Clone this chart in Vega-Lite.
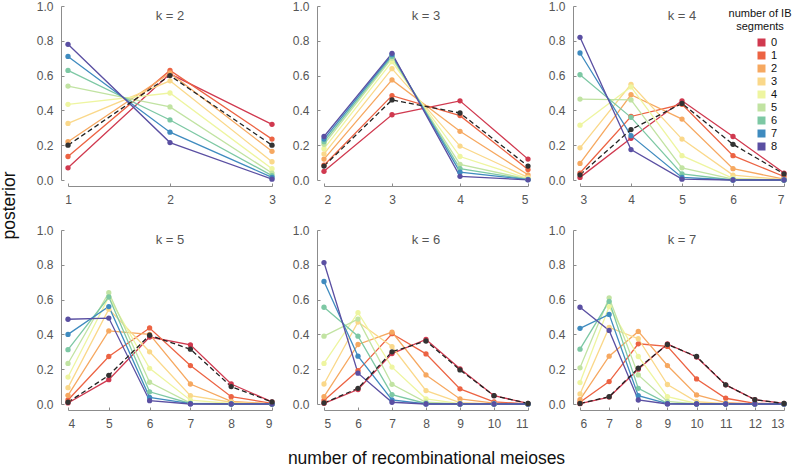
{
"$schema": "https://vega.github.io/schema/vega-lite/v6.json",
"autosize": {"type": "none"},
"padding": {"left": 68, "top": 6, "right": 724, "bottom": 461},
"background": "white",
"bounds": "flush",
"columns": 3,
"spacing": {"row": 50, "column": 52},
"resolve": {"legend": {"color": "independent"}},
"data": {"values": [
{"k":2,"m":1,"s":"0","p":0.07},{"k":2,"m":2,"s":"0","p":0.61},{"k":2,"m":3,"s":"0","p":0.32},
{"k":2,"m":1,"s":"1","p":0.135},{"k":2,"m":2,"s":"1","p":0.63},{"k":2,"m":3,"s":"1","p":0.235},
{"k":2,"m":1,"s":"2","p":0.22},{"k":2,"m":2,"s":"2","p":0.615},{"k":2,"m":3,"s":"2","p":0.165},
{"k":2,"m":1,"s":"3","p":0.325},{"k":2,"m":2,"s":"3","p":0.57},{"k":2,"m":3,"s":"3","p":0.105},
{"k":2,"m":1,"s":"4","p":0.435},{"k":2,"m":2,"s":"4","p":0.5},{"k":2,"m":3,"s":"4","p":0.065},
{"k":2,"m":1,"s":"5","p":0.54},{"k":2,"m":2,"s":"5","p":0.42},{"k":2,"m":3,"s":"5","p":0.04},
{"k":2,"m":1,"s":"6","p":0.63},{"k":2,"m":2,"s":"6","p":0.345},{"k":2,"m":3,"s":"6","p":0.025},
{"k":2,"m":1,"s":"7","p":0.71},{"k":2,"m":2,"s":"7","p":0.275},{"k":2,"m":3,"s":"7","p":0.015},
{"k":2,"m":1,"s":"8","p":0.78},{"k":2,"m":2,"s":"8","p":0.215},{"k":2,"m":3,"s":"8","p":0.005},
{"k":2,"m":1,"s":"mean","p":0.2},{"k":2,"m":2,"s":"mean","p":0.6},{"k":2,"m":3,"s":"mean","p":0.2},

{"k":3,"m":2,"s":"0","p":0.05},{"k":3,"m":3,"s":"0","p":0.375},{"k":3,"m":4,"s":"0","p":0.455},{"k":3,"m":5,"s":"0","p":0.12},
{"k":3,"m":2,"s":"1","p":0.085},{"k":3,"m":3,"s":"1","p":0.485},{"k":3,"m":4,"s":"1","p":0.37},{"k":3,"m":5,"s":"1","p":0.06},
{"k":3,"m":2,"s":"2","p":0.12},{"k":3,"m":3,"s":"2","p":0.575},{"k":3,"m":4,"s":"2","p":0.28},{"k":3,"m":5,"s":"2","p":0.03},
{"k":3,"m":2,"s":"3","p":0.15},{"k":3,"m":3,"s":"3","p":0.64},{"k":3,"m":4,"s":"3","p":0.195},{"k":3,"m":5,"s":"3","p":0.015},
{"k":3,"m":2,"s":"4","p":0.18},{"k":3,"m":3,"s":"4","p":0.68},{"k":3,"m":4,"s":"4","p":0.135},{"k":3,"m":5,"s":"4","p":0.008},
{"k":3,"m":2,"s":"5","p":0.205},{"k":3,"m":3,"s":"5","p":0.7},{"k":3,"m":4,"s":"5","p":0.09},{"k":3,"m":5,"s":"5","p":0.005},
{"k":3,"m":2,"s":"6","p":0.22},{"k":3,"m":3,"s":"6","p":0.71},{"k":3,"m":4,"s":"6","p":0.065},{"k":3,"m":5,"s":"6","p":0.003},
{"k":3,"m":2,"s":"7","p":0.235},{"k":3,"m":3,"s":"7","p":0.72},{"k":3,"m":4,"s":"7","p":0.045},{"k":3,"m":5,"s":"7","p":0.002},
{"k":3,"m":2,"s":"8","p":0.25},{"k":3,"m":3,"s":"8","p":0.728},{"k":3,"m":4,"s":"8","p":0.021},{"k":3,"m":5,"s":"8","p":0.001},
{"k":3,"m":2,"s":"mean","p":0.08},{"k":3,"m":3,"s":"mean","p":0.46},{"k":3,"m":4,"s":"mean","p":0.385},{"k":3,"m":5,"s":"mean","p":0.08},

{"k":4,"m":3,"s":"0","p":0.015},{"k":4,"m":4,"s":"0","p":0.24},{"k":4,"m":5,"s":"0","p":0.455},{"k":4,"m":6,"s":"0","p":0.25},{"k":4,"m":7,"s":"0","p":0.04},
{"k":4,"m":3,"s":"1","p":0.04},{"k":4,"m":4,"s":"1","p":0.365},{"k":4,"m":5,"s":"1","p":0.435},{"k":4,"m":6,"s":"1","p":0.14},{"k":4,"m":7,"s":"1","p":0.02},
{"k":4,"m":3,"s":"2","p":0.095},{"k":4,"m":4,"s":"2","p":0.49},{"k":4,"m":5,"s":"2","p":0.35},{"k":4,"m":6,"s":"2","p":0.065},{"k":4,"m":7,"s":"2","p":0.005},
{"k":4,"m":3,"s":"3","p":0.185},{"k":4,"m":4,"s":"3","p":0.55},{"k":4,"m":5,"s":"3","p":0.235},{"k":4,"m":6,"s":"3","p":0.028},{"k":4,"m":7,"s":"3","p":0.002},
{"k":4,"m":3,"s":"4","p":0.315},{"k":4,"m":4,"s":"4","p":0.535},{"k":4,"m":5,"s":"4","p":0.14},{"k":4,"m":6,"s":"4","p":0.01},{"k":4,"m":7,"s":"4","p":0.0},
{"k":4,"m":3,"s":"5","p":0.465},{"k":4,"m":4,"s":"5","p":0.46},{"k":4,"m":5,"s":"5","p":0.07},{"k":4,"m":6,"s":"5","p":0.005},{"k":4,"m":7,"s":"5","p":0.0},
{"k":4,"m":3,"s":"6","p":0.605},{"k":4,"m":4,"s":"6","p":0.36},{"k":4,"m":5,"s":"6","p":0.035},{"k":4,"m":6,"s":"6","p":0.0},{"k":4,"m":7,"s":"6","p":0.0},
{"k":4,"m":3,"s":"7","p":0.73},{"k":4,"m":4,"s":"7","p":0.255},{"k":4,"m":5,"s":"7","p":0.015},{"k":4,"m":6,"s":"7","p":0.0},{"k":4,"m":7,"s":"7","p":0.0},
{"k":4,"m":3,"s":"8","p":0.82},{"k":4,"m":4,"s":"8","p":0.175},{"k":4,"m":5,"s":"8","p":0.005},{"k":4,"m":6,"s":"8","p":0.0},{"k":4,"m":7,"s":"8","p":0.0},
{"k":4,"m":3,"s":"mean","p":0.03},{"k":4,"m":4,"s":"mean","p":0.29},{"k":4,"m":5,"s":"mean","p":0.44},{"k":4,"m":6,"s":"mean","p":0.205},{"k":4,"m":7,"s":"mean","p":0.035},

{"k":5,"m":4,"s":"0","p":0.006},{"k":5,"m":5,"s":"0","p":0.14},{"k":5,"m":6,"s":"0","p":0.385},{"k":5,"m":7,"s":"0","p":0.34},{"k":5,"m":8,"s":"0","p":0.115},{"k":5,"m":9,"s":"0","p":0.012},
{"k":5,"m":4,"s":"1","p":0.023},{"k":5,"m":5,"s":"1","p":0.273},{"k":5,"m":6,"s":"1","p":0.437},{"k":5,"m":7,"s":"1","p":0.221},{"k":5,"m":8,"s":"1","p":0.042},{"k":5,"m":9,"s":"1","p":0.004},
{"k":5,"m":4,"s":"2","p":0.05},{"k":5,"m":5,"s":"2","p":0.42},{"k":5,"m":6,"s":"2","p":0.4},{"k":5,"m":7,"s":"2","p":0.115},{"k":5,"m":8,"s":"2","p":0.015},{"k":5,"m":9,"s":"2","p":0.001},
{"k":5,"m":4,"s":"3","p":0.094},{"k":5,"m":5,"s":"3","p":0.545},{"k":5,"m":6,"s":"3","p":0.3},{"k":5,"m":7,"s":"3","p":0.048},{"k":5,"m":8,"s":"3","p":0.01},{"k":5,"m":9,"s":"3","p":0.0},
{"k":5,"m":4,"s":"4","p":0.155},{"k":5,"m":5,"s":"4","p":0.615},{"k":5,"m":6,"s":"4","p":0.205},{"k":5,"m":7,"s":"4","p":0.022},{"k":5,"m":8,"s":"4","p":0.003},{"k":5,"m":9,"s":"4","p":0.0},
{"k":5,"m":4,"s":"5","p":0.233},{"k":5,"m":5,"s":"5","p":0.64},{"k":5,"m":6,"s":"5","p":0.125},{"k":5,"m":7,"s":"5","p":0.005},{"k":5,"m":8,"s":"5","p":0.0},{"k":5,"m":9,"s":"5","p":0.0},
{"k":5,"m":4,"s":"6","p":0.312},{"k":5,"m":5,"s":"6","p":0.615},{"k":5,"m":6,"s":"6","p":0.07},{"k":5,"m":7,"s":"6","p":0.003},{"k":5,"m":8,"s":"6","p":0.0},{"k":5,"m":9,"s":"6","p":0.0},
{"k":5,"m":4,"s":"7","p":0.4},{"k":5,"m":5,"s":"7","p":0.56},{"k":5,"m":6,"s":"7","p":0.038},{"k":5,"m":7,"s":"7","p":0.002},{"k":5,"m":8,"s":"7","p":0.0},{"k":5,"m":9,"s":"7","p":0.0},
{"k":5,"m":4,"s":"8","p":0.487},{"k":5,"m":5,"s":"8","p":0.494},{"k":5,"m":6,"s":"8","p":0.019},{"k":5,"m":7,"s":"8","p":0.0},{"k":5,"m":8,"s":"8","p":0.0},{"k":5,"m":9,"s":"8","p":0.0},
{"k":5,"m":4,"s":"mean","p":0.01},{"k":5,"m":5,"s":"mean","p":0.165},{"k":5,"m":6,"s":"mean","p":0.395},{"k":5,"m":7,"s":"mean","p":0.315},{"k":5,"m":8,"s":"mean","p":0.1},{"k":5,"m":9,"s":"mean","p":0.012},

{"k":6,"m":5,"s":"0","p":0.004},{"k":6,"m":6,"s":"0","p":0.083},{"k":6,"m":7,"s":"0","p":0.29},{"k":6,"m":8,"s":"0","p":0.371},{"k":6,"m":9,"s":"0","p":0.202},{"k":6,"m":10,"s":"0","p":0.048},{"k":6,"m":11,"s":"0","p":0.004},
{"k":6,"m":5,"s":"1","p":0.02},{"k":6,"m":6,"s":"1","p":0.192},{"k":6,"m":7,"s":"1","p":0.404},{"k":6,"m":8,"s":"1","p":0.288},{"k":6,"m":9,"s":"1","p":0.087},{"k":6,"m":10,"s":"1","p":0.012},{"k":6,"m":11,"s":"1","p":0.001},
{"k":6,"m":5,"s":"2","p":0.042},{"k":6,"m":6,"s":"2","p":0.342},{"k":6,"m":7,"s":"2","p":0.413},{"k":6,"m":8,"s":"2","p":0.167},{"k":6,"m":9,"s":"2","p":0.029},{"k":6,"m":10,"s":"2","p":0.005},{"k":6,"m":11,"s":"2","p":0.0},
{"k":6,"m":5,"s":"3","p":0.115},{"k":6,"m":6,"s":"3","p":0.471},{"k":6,"m":7,"s":"3","p":0.33},{"k":6,"m":8,"s":"3","p":0.077},{"k":6,"m":9,"s":"3","p":0.008},{"k":6,"m":10,"s":"3","p":0.001},{"k":6,"m":11,"s":"3","p":0.0},
{"k":6,"m":5,"s":"4","p":0.233},{"k":6,"m":6,"s":"4","p":0.525},{"k":6,"m":7,"s":"4","p":0.212},{"k":6,"m":8,"s":"4","p":0.03},{"k":6,"m":9,"s":"4","p":0.002},{"k":6,"m":10,"s":"4","p":0.0},{"k":6,"m":11,"s":"4","p":0.0},
{"k":6,"m":5,"s":"5","p":0.39},{"k":6,"m":6,"s":"5","p":0.488},{"k":6,"m":7,"s":"5","p":0.113},{"k":6,"m":8,"s":"5","p":0.01},{"k":6,"m":9,"s":"5","p":0.0},{"k":6,"m":10,"s":"5","p":0.0},{"k":6,"m":11,"s":"5","p":0.0},
{"k":6,"m":5,"s":"6","p":0.556},{"k":6,"m":6,"s":"6","p":0.39},{"k":6,"m":7,"s":"6","p":0.054},{"k":6,"m":8,"s":"6","p":0.003},{"k":6,"m":9,"s":"6","p":0.0},{"k":6,"m":10,"s":"6","p":0.0},{"k":6,"m":11,"s":"6","p":0.0},
{"k":6,"m":5,"s":"7","p":0.704},{"k":6,"m":6,"s":"7","p":0.275},{"k":6,"m":7,"s":"7","p":0.023},{"k":6,"m":8,"s":"7","p":0.0},{"k":6,"m":9,"s":"7","p":0.0},{"k":6,"m":10,"s":"7","p":0.0},{"k":6,"m":11,"s":"7","p":0.0},
{"k":6,"m":5,"s":"8","p":0.813},{"k":6,"m":6,"s":"8","p":0.177},{"k":6,"m":7,"s":"8","p":0.01},{"k":6,"m":8,"s":"8","p":0.0},{"k":6,"m":9,"s":"8","p":0.0},{"k":6,"m":10,"s":"8","p":0.0},{"k":6,"m":11,"s":"8","p":0.0},
{"k":6,"m":5,"s":"mean","p":0.006},{"k":6,"m":6,"s":"mean","p":0.09},{"k":6,"m":7,"s":"mean","p":0.3},{"k":6,"m":8,"s":"mean","p":0.362},{"k":6,"m":9,"s":"mean","p":0.196},{"k":6,"m":10,"s":"mean","p":0.048},{"k":6,"m":11,"s":"mean","p":0.003},

{"k":7,"m":6,"s":"0","p":0.002},{"k":7,"m":7,"s":"0","p":0.04},{"k":7,"m":8,"s":"0","p":0.2},{"k":7,"m":9,"s":"0","p":0.345},{"k":7,"m":10,"s":"0","p":0.27},{"k":7,"m":11,"s":"0","p":0.11},{"k":7,"m":12,"s":"0","p":0.025},{"k":7,"m":13,"s":"0","p":0.003},
{"k":7,"m":6,"s":"1","p":0.01},{"k":7,"m":7,"s":"1","p":0.129},{"k":7,"m":8,"s":"1","p":0.346},{"k":7,"m":9,"s":"1","p":0.331},{"k":7,"m":10,"s":"1","p":0.144},{"k":7,"m":11,"s":"1","p":0.033},{"k":7,"m":12,"s":"1","p":0.004},{"k":7,"m":13,"s":"1","p":0.0},
{"k":7,"m":6,"s":"2","p":0.025},{"k":7,"m":7,"s":"2","p":0.275},{"k":7,"m":8,"s":"2","p":0.417},{"k":7,"m":9,"s":"2","p":0.221},{"k":7,"m":10,"s":"2","p":0.052},{"k":7,"m":11,"s":"2","p":0.008},{"k":7,"m":12,"s":"2","p":0.001},{"k":7,"m":13,"s":"2","p":0.0},
{"k":7,"m":6,"s":"3","p":0.058},{"k":7,"m":7,"s":"3","p":0.44},{"k":7,"m":8,"s":"3","p":0.375},{"k":7,"m":9,"s":"3","p":0.112},{"k":7,"m":10,"s":"3","p":0.013},{"k":7,"m":11,"s":"3","p":0.002},{"k":7,"m":12,"s":"3","p":0.0},{"k":7,"m":13,"s":"3","p":0.0},
{"k":7,"m":6,"s":"4","p":0.123},{"k":7,"m":7,"s":"4","p":0.56},{"k":7,"m":8,"s":"4","p":0.273},{"k":7,"m":9,"s":"4","p":0.042},{"k":7,"m":10,"s":"4","p":0.003},{"k":7,"m":11,"s":"4","p":0.0},{"k":7,"m":12,"s":"4","p":0.0},{"k":7,"m":13,"s":"4","p":0.0},
{"k":7,"m":6,"s":"5","p":0.208},{"k":7,"m":7,"s":"5","p":0.61},{"k":7,"m":8,"s":"5","p":0.167},{"k":7,"m":9,"s":"5","p":0.015},{"k":7,"m":10,"s":"5","p":0.0},{"k":7,"m":11,"s":"5","p":0.0},{"k":7,"m":12,"s":"5","p":0.0},{"k":7,"m":13,"s":"5","p":0.0},
{"k":7,"m":6,"s":"6","p":0.315},{"k":7,"m":7,"s":"6","p":0.59},{"k":7,"m":8,"s":"6","p":0.09},{"k":7,"m":9,"s":"6","p":0.004},{"k":7,"m":10,"s":"6","p":0.0},{"k":7,"m":11,"s":"6","p":0.0},{"k":7,"m":12,"s":"6","p":0.0},{"k":7,"m":13,"s":"6","p":0.0},
{"k":7,"m":6,"s":"7","p":0.435},{"k":7,"m":7,"s":"7","p":0.515},{"k":7,"m":8,"s":"7","p":0.048},{"k":7,"m":9,"s":"7","p":0.002},{"k":7,"m":10,"s":"7","p":0.0},{"k":7,"m":11,"s":"7","p":0.0},{"k":7,"m":12,"s":"7","p":0.0},{"k":7,"m":13,"s":"7","p":0.0},
{"k":7,"m":6,"s":"8","p":0.556},{"k":7,"m":7,"s":"8","p":0.423},{"k":7,"m":8,"s":"8","p":0.023},{"k":7,"m":9,"s":"8","p":0.0},{"k":7,"m":10,"s":"8","p":0.0},{"k":7,"m":11,"s":"8","p":0.0},{"k":7,"m":12,"s":"8","p":0.0},{"k":7,"m":13,"s":"8","p":0.0},
{"k":7,"m":6,"s":"mean","p":0.003},{"k":7,"m":7,"s":"mean","p":0.042},{"k":7,"m":8,"s":"mean","p":0.206},{"k":7,"m":9,"s":"mean","p":0.342},{"k":7,"m":10,"s":"mean","p":0.273},{"k":7,"m":11,"s":"mean","p":0.11},{"k":7,"m":12,"s":"mean","p":0.025},{"k":7,"m":13,"s":"mean","p":0.003}
]},
"concat": [
{
 "width": 204, "height": 174,
 "title": {"text": "k = 2"},
 "transform": [{"filter": "datum.k == 2"}],
 "encoding": {
  "x": {"field": "m", "type": "ordinal", "sort": "ascending", "scale": {"type": "point", "domain": [1, 2, 3], "padding": 0}, "axis": {"labelAngle": 0, "labelOverlap": false, "title": null}},
  "y": {"field": "p", "type": "quantitative", "scale": {"domain": [0, 1], "nice": false}, "axis": {"values": [0, 0.2, 0.4, 0.6, 0.8, 1], "format": ".1f", "title": "posterior", "titleX": -47, "titleY": 199, "titleBaseline": "alphabetic", "titleFontSize": 17.5, "titleFontWeight": "normal", "titleColor": "#111"}}
 },
 "layer": [
  {"transform": [{"filter": "datum.s != 'mean'"}], "mark": {"type": "line", "strokeWidth": 1.3}, "encoding": {"stroke": {"field": "s", "type": "nominal", "scale": {"domain": ["0","1","2","3","4","5","6","7","8"], "range": ["#d0394f","#ec6343","#f6a860","#fad88a","#eef5a0","#c1e3a2","#7dc8a4","#3f8bbf","#5a4fa2"]}, "legend": null}}},
  {"transform": [{"filter": "datum.s == 'mean'"}], "mark": {"type": "line", "strokeWidth": 1.3, "color": "#222", "strokeDash": [5, 3]}, "encoding": {}},
  {"transform": [{"filter": "datum.s != 'mean'"}], "mark": {"type": "point", "filled": true, "opacity": 1, "size": 28}, "encoding": {"color": {"field": "s", "type": "nominal", "scale": {"domain": ["0","1","2","3","4","5","6","7","8"], "range": ["#d0394f","#ec6343","#f6a860","#fad88a","#eef5a0","#c1e3a2","#7dc8a4","#3f8bbf","#5a4fa2"]}, "legend": null}}},
  {"transform": [{"filter": "datum.s == 'mean'"}], "mark": {"type": "point", "filled": true, "opacity": 1, "size": 28, "color": "#333"}, "encoding": {}}
 ]
},
{
 "width": 204, "height": 174,
 "title": {"text": "k = 3"},
 "transform": [{"filter": "datum.k == 3"}],
 "encoding": {
  "x": {"field": "m", "type": "quantitative", "scale": {"domain": [2, 5], "nice": false, "zero": false}, "axis": {"values": [2, 3, 4, 5], "tickCount": 10, "format": "d", "title": null}},
  "y": {"field": "p", "type": "quantitative", "scale": {"domain": [0, 1], "nice": false}, "axis": {"values": [0, 0.2, 0.4, 0.6, 0.8, 1], "format": ".1f", "title": null}}
 },
 "layer": [
  {"transform": [{"filter": "datum.s != 'mean'"}], "mark": {"type": "line", "strokeWidth": 1.3}, "encoding": {"stroke": {"field": "s", "type": "nominal", "scale": {"domain": ["0","1","2","3","4","5","6","7","8"], "range": ["#d0394f","#ec6343","#f6a860","#fad88a","#eef5a0","#c1e3a2","#7dc8a4","#3f8bbf","#5a4fa2"]}, "legend": null}}},
  {"transform": [{"filter": "datum.s == 'mean'"}], "mark": {"type": "line", "strokeWidth": 1.3, "color": "#222", "strokeDash": [5, 3]}, "encoding": {}},
  {"transform": [{"filter": "datum.s != 'mean'"}], "mark": {"type": "point", "filled": true, "opacity": 1, "size": 28}, "encoding": {"color": {"field": "s", "type": "nominal", "scale": {"domain": ["0","1","2","3","4","5","6","7","8"], "range": ["#d0394f","#ec6343","#f6a860","#fad88a","#eef5a0","#c1e3a2","#7dc8a4","#3f8bbf","#5a4fa2"]}, "legend": null}}},
  {"transform": [{"filter": "datum.s == 'mean'"}], "mark": {"type": "point", "filled": true, "opacity": 1, "size": 28, "color": "#333"}, "encoding": {}}
 ]
},
{
 "width": 204, "height": 174,
 "title": {"text": "k = 4"},
 "transform": [{"filter": "datum.k == 4"}],
 "encoding": {
  "x": {"field": "m", "type": "quantitative", "scale": {"domain": [3, 7], "nice": false, "zero": false}, "axis": {"values": [3, 4, 5, 6, 7], "tickCount": 10, "format": "d", "title": null}},
  "y": {"field": "p", "type": "quantitative", "scale": {"domain": [0, 1], "nice": false}, "axis": {"values": [0, 0.2, 0.4, 0.6, 0.8, 1], "format": ".1f", "title": null}}
 },
 "layer": [
  {"transform": [{"filter": "datum.s != 'mean'"}], "mark": {"type": "line", "strokeWidth": 1.3}, "encoding": {"stroke": {"field": "s", "type": "nominal", "scale": {"domain": ["0","1","2","3","4","5","6","7","8"], "range": ["#d0394f","#ec6343","#f6a860","#fad88a","#eef5a0","#c1e3a2","#7dc8a4","#3f8bbf","#5a4fa2"]}, "legend": null}}},
  {"transform": [{"filter": "datum.s == 'mean'"}], "mark": {"type": "line", "strokeWidth": 1.3, "color": "#222", "strokeDash": [5, 3]}, "encoding": {}},
  {"transform": [{"filter": "datum.s != 'mean'"}], "mark": {"type": "point", "filled": true, "opacity": 1, "size": 28}, "encoding": {"color": {"field": "s", "type": "nominal", "title": ["number of IB", "segments"], "scale": {"domain": ["0","1","2","3","4","5","6","7","8"], "range": ["#d0394f","#ec6343","#f6a860","#fad88a","#eef5a0","#c1e3a2","#7dc8a4","#3f8bbf","#5a4fa2"]}, "legend": {"orient": "none", "legendX": 149, "legendY": 2, "symbolType": "square", "symbolSize": 64, "symbolStrokeWidth": 0, "labelFontSize": 11, "titleFontSize": 11, "titleFontWeight": "normal", "titleColor": "#111", "labelColor": "#111", "titleAlign": "center", "titleAnchor": "middle", "titlePadding": 5, "rowPadding": 1, "symbolOffset": 14, "labelOffset": 4, "titleLineHeight": 13}}}},
  {"transform": [{"filter": "datum.s == 'mean'"}], "mark": {"type": "point", "filled": true, "opacity": 1, "size": 28, "color": "#333"}, "encoding": {}}
 ]
},
{
 "width": 204, "height": 174,
 "title": {"text": "k = 5"},
 "transform": [{"filter": "datum.k == 5"}],
 "encoding": {
  "x": {"field": "m", "type": "quantitative", "scale": {"domain": [4, 9], "nice": false, "zero": false}, "axis": {"values": [4, 5, 6, 7, 8, 9], "tickCount": 10, "format": "d", "title": null}},
  "y": {"field": "p", "type": "quantitative", "scale": {"domain": [0, 1], "nice": false}, "axis": {"values": [0, 0.2, 0.4, 0.6, 0.8, 1], "format": ".1f", "title": null}}
 },
 "layer": [
  {"transform": [{"filter": "datum.s != 'mean'"}], "mark": {"type": "line", "strokeWidth": 1.3}, "encoding": {"stroke": {"field": "s", "type": "nominal", "scale": {"domain": ["0","1","2","3","4","5","6","7","8"], "range": ["#d0394f","#ec6343","#f6a860","#fad88a","#eef5a0","#c1e3a2","#7dc8a4","#3f8bbf","#5a4fa2"]}, "legend": null}}},
  {"transform": [{"filter": "datum.s == 'mean'"}], "mark": {"type": "line", "strokeWidth": 1.3, "color": "#222", "strokeDash": [5, 3]}, "encoding": {}},
  {"transform": [{"filter": "datum.s != 'mean'"}], "mark": {"type": "point", "filled": true, "opacity": 1, "size": 28}, "encoding": {"color": {"field": "s", "type": "nominal", "scale": {"domain": ["0","1","2","3","4","5","6","7","8"], "range": ["#d0394f","#ec6343","#f6a860","#fad88a","#eef5a0","#c1e3a2","#7dc8a4","#3f8bbf","#5a4fa2"]}, "legend": null}}},
  {"transform": [{"filter": "datum.s == 'mean'"}], "mark": {"type": "point", "filled": true, "opacity": 1, "size": 28, "color": "#333"}, "encoding": {}}
 ]
},
{
 "width": 204, "height": 174,
 "title": {"text": "k = 6"},
 "transform": [{"filter": "datum.k == 6"}],
 "encoding": {
  "x": {"field": "m", "type": "quantitative", "scale": {"domain": [5, 11], "nice": false, "zero": false}, "axis": {"values": [5, 6, 7, 8, 9, 10, 11], "tickCount": 10, "format": "d", "title": "number of recombinational meioses", "titleY": 53, "titleBaseline": "alphabetic", "titleFontSize": 17.5, "titleFontWeight": "normal", "titleColor": "#111"}},
  "y": {"field": "p", "type": "quantitative", "scale": {"domain": [0, 1], "nice": false}, "axis": {"values": [0, 0.2, 0.4, 0.6, 0.8, 1], "format": ".1f", "title": null}}
 },
 "layer": [
  {"transform": [{"filter": "datum.s != 'mean'"}], "mark": {"type": "line", "strokeWidth": 1.3}, "encoding": {"stroke": {"field": "s", "type": "nominal", "scale": {"domain": ["0","1","2","3","4","5","6","7","8"], "range": ["#d0394f","#ec6343","#f6a860","#fad88a","#eef5a0","#c1e3a2","#7dc8a4","#3f8bbf","#5a4fa2"]}, "legend": null}}},
  {"transform": [{"filter": "datum.s == 'mean'"}], "mark": {"type": "line", "strokeWidth": 1.3, "color": "#222", "strokeDash": [5, 3]}, "encoding": {}},
  {"transform": [{"filter": "datum.s != 'mean'"}], "mark": {"type": "point", "filled": true, "opacity": 1, "size": 28}, "encoding": {"color": {"field": "s", "type": "nominal", "scale": {"domain": ["0","1","2","3","4","5","6","7","8"], "range": ["#d0394f","#ec6343","#f6a860","#fad88a","#eef5a0","#c1e3a2","#7dc8a4","#3f8bbf","#5a4fa2"]}, "legend": null}}},
  {"transform": [{"filter": "datum.s == 'mean'"}], "mark": {"type": "point", "filled": true, "opacity": 1, "size": 28, "color": "#333"}, "encoding": {}}
 ]
},
{
 "width": 204, "height": 174,
 "title": {"text": "k = 7"},
 "transform": [{"filter": "datum.k == 7"}],
 "encoding": {
  "x": {"field": "m", "type": "quantitative", "scale": {"domain": [6, 13], "nice": false, "zero": false}, "axis": {"values": [6, 7, 8, 9, 10, 11, 12, 13], "tickCount": 10, "format": "d", "title": null}},
  "y": {"field": "p", "type": "quantitative", "scale": {"domain": [0, 1], "nice": false}, "axis": {"values": [0, 0.2, 0.4, 0.6, 0.8, 1], "format": ".1f", "title": null}}
 },
 "layer": [
  {"transform": [{"filter": "datum.s != 'mean'"}], "mark": {"type": "line", "strokeWidth": 1.3}, "encoding": {"stroke": {"field": "s", "type": "nominal", "scale": {"domain": ["0","1","2","3","4","5","6","7","8"], "range": ["#d0394f","#ec6343","#f6a860","#fad88a","#eef5a0","#c1e3a2","#7dc8a4","#3f8bbf","#5a4fa2"]}, "legend": null}}},
  {"transform": [{"filter": "datum.s == 'mean'"}], "mark": {"type": "line", "strokeWidth": 1.3, "color": "#222", "strokeDash": [5, 3]}, "encoding": {}},
  {"transform": [{"filter": "datum.s != 'mean'"}], "mark": {"type": "point", "filled": true, "opacity": 1, "size": 28}, "encoding": {"color": {"field": "s", "type": "nominal", "scale": {"domain": ["0","1","2","3","4","5","6","7","8"], "range": ["#d0394f","#ec6343","#f6a860","#fad88a","#eef5a0","#c1e3a2","#7dc8a4","#3f8bbf","#5a4fa2"]}, "legend": null}}},
  {"transform": [{"filter": "datum.s == 'mean'"}], "mark": {"type": "point", "filled": true, "opacity": 1, "size": 28, "color": "#333"}, "encoding": {}}
 ]
}
],
"config": {
 "font": "Liberation Sans",
 "view": {"stroke": null},
 "axis": {"grid": false, "domainColor": "#8c8c8c", "tickColor": "#8c8c8c", "domainWidth": 1, "tickWidth": 1, "tickSize": -3, "labelColor": "#555", "labelFontSize": 12, "labelFont": "Liberation Sans", "labelOverlap": false},
 "axisY": {"offset": 7, "labelPadding": 11},
 "axisX": {"offset": 6, "labelPadding": 11},
 "title": {"fontSize": 13, "fontWeight": "normal", "color": "#555", "frame": "group", "anchor": "middle", "baseline": "alphabetic", "offset": -23}
}
}
